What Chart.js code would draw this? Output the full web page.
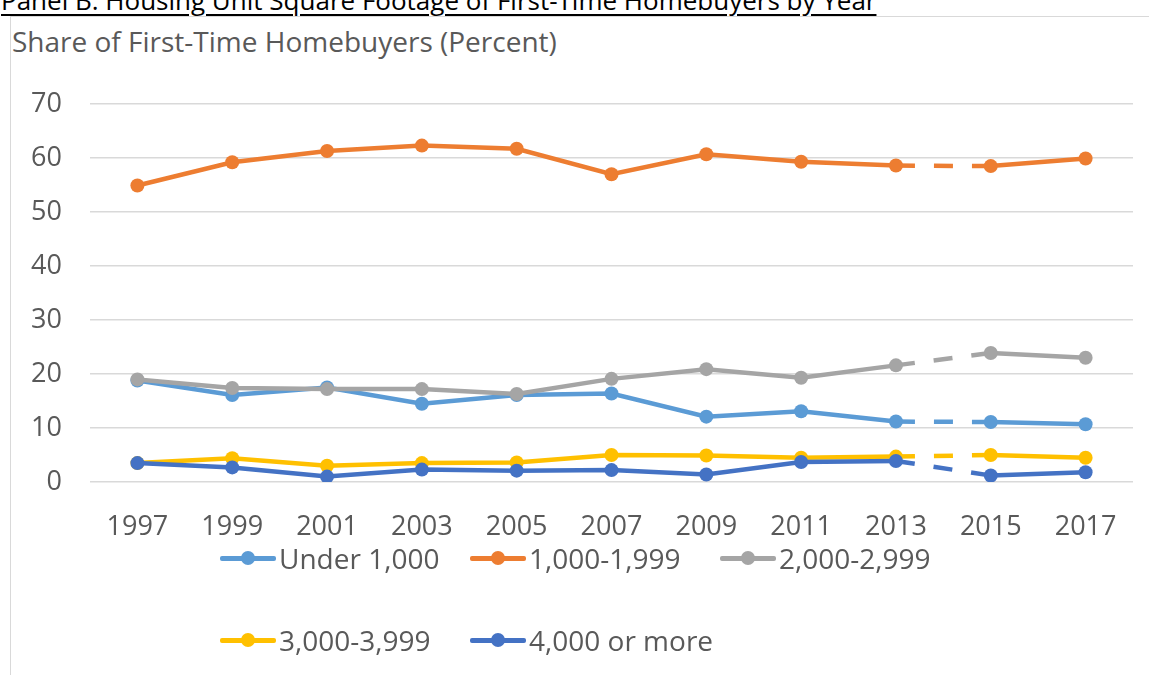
<!DOCTYPE html>
<html>
<head>
<meta charset="utf-8">
<script src="https://cdn.jsdelivr.net/npm/chart.js@4"></script>
<style>
  body { margin: 0; background: #ffffff; font-family: "Open Sans", sans-serif; }
  #wrap { position: relative; width: 1149px; height: 675px; overflow: hidden; }
  #frame { position: absolute; left: 10px; top: 16px; width: 1200px; height: 700px; border: 1.5px solid #d9d9d9; box-sizing: border-box; }
  #panelTitle { position: absolute; left: 1px; top: -18px; font-size: 26px; color: #000; text-decoration: underline; text-underline-offset: 4px; white-space: nowrap; }
  #yTitle { position: absolute; left: 12px; top: 22px; font-size: 28px; color: #595959; white-space: nowrap; }
  #chartBox { position: absolute; left: 0; top: 0; width: 1149px; height: 560px; }
  #legend { position: absolute; left: 220px; top: 537px; width: 800px; display: grid; grid-template-columns: 250px 250px 250px; row-gap: 40px; }
  .item { display: flex; align-items: center; font-size: 28px; color: #595959; height: 42px; white-space: nowrap; }
  .mark { position: relative; width: 56px; height: 42px; margin-right: 3px; }
  .mark .ln { position: absolute; left: 0; top: 19px; width: 56px; height: 5px; border-radius: 2px; }
  .mark .dot { position: absolute; left: 21px; top: 14px; width: 14px; height: 14px; border-radius: 50%; }
</style>
</head>
<body>
<div id="wrap">
  <div id="panelTitle">Panel B: Housing Unit Square Footage of First-Time Homebuyers by Year</div>
  <div id="frame"></div>
  <div id="yTitle">Share of First-Time Homebuyers (Percent)</div>
  <div id="chartBox"><canvas id="chart"></canvas></div>
  <div id="legend"></div>
</div>
<script>
var years = ['1997', '1999', '2001', '2003', '2005', '2007', '2009', '2011', '2013', '2015', '2017'];
var seriesNames = ['Under 1,000', '1,000-1,999', '2,000-2,999', '3,000-3,999', '4,000 or more'];
var seriesColors = ['#5B9BD5', '#ED7D31', '#A5A5A5', '#FFC000', '#4472C4'];

var under1000 = [18.8, 16.1, 17.5, 14.5, 16.1, 16.4, 12.1, 13.1, 11.2, 11.1, 10.7];
var from1000 = [54.9, 59.2, 61.3, 62.3, 61.7, 57.0, 60.7, 59.3, 58.6, 58.5, 59.9];
var from2000 = [19.0, 17.4, 17.2, 17.2, 16.3, 19.1, 20.9, 19.3, 21.6, 23.9, 23.0];
var from3000 = [3.5, 4.4, 3.0, 3.5, 3.6, 5.0, 4.9, 4.5, 4.7, 5.0, 4.5];
var over4000 = [3.5, 2.7, 1.0, 2.3, 2.1, 2.2, 1.4, 3.7, 3.9, 1.2, 1.8];

var yTicks = [0, 10, 20, 30, 40, 50, 60, 70];

// the 2013 -> 2015 gap is drawn dashed
var gapIndex = 8;

var allSeries = [under1000, from1000, from2000, from3000, over4000];

var datasets = allSeries.map(function (vals, i) {
    return {
        label: seriesNames[i],
        data: vals,
        borderColor: seriesColors[i],
        backgroundColor: seriesColors[i],
        borderWidth: 4.5,
        pointRadius: 7,
        pointHoverRadius: 7,
        pointBorderWidth: 0,
        tension: 0,
        order: allSeries.length - i,
        segment: {
            borderDash: function (ctx) { return ctx.p0DataIndex === gapIndex ? [19, 19] : undefined; }
        }
    };
});

var ctx = document.getElementById('chart');
var chart = new Chart(ctx, {
    type: 'line',
    data: { labels: years, datasets: datasets },
    options: {
        responsive: true,
        maintainAspectRatio: false,
        animation: false,
        layout: { padding: { top: 104, right: 16, left: 0, bottom: 0 } },
        plugins: { legend: { display: false }, tooltip: { enabled: false } },
        scales: {
            x: {
                offset: true,
                grid: { display: false },
                border: { display: false },
                ticks: { color: '#595959', font: { family: 'Open Sans', size: 27 }, padding: 21 },
                afterFit: function (s) { s.height = 78; }
            },
            y: {
                min: 0,
                max: 70,
                afterBuildTicks: function (s) { s.ticks = yTicks.map(function (v) { return { value: v }; }); },
                grid: { color: '#d9d9d9', lineWidth: 1.5, drawTicks: false },
                border: { display: false },
                ticks: { color: '#595959', font: { family: 'Open Sans', size: 27 }, padding: 28 },
                afterFit: function (s) { s.width = 90; }
            }
        }
    }
});

// legend laid out like the Excel one: fixed columns, rows left aligned
var legendHtml = '';
chart.data.datasets.forEach(function (ds) {
    legendHtml += '<div class="item"><span class="mark">' +
        '<span class="ln" style="background:' + ds.borderColor + '"></span>' +
        '<span class="dot" style="background:' + ds.borderColor + '"></span>' +
        '</span>' + ds.label + '</div>';
});
document.getElementById('legend').innerHTML = legendHtml;
</script>
</body>
</html>
